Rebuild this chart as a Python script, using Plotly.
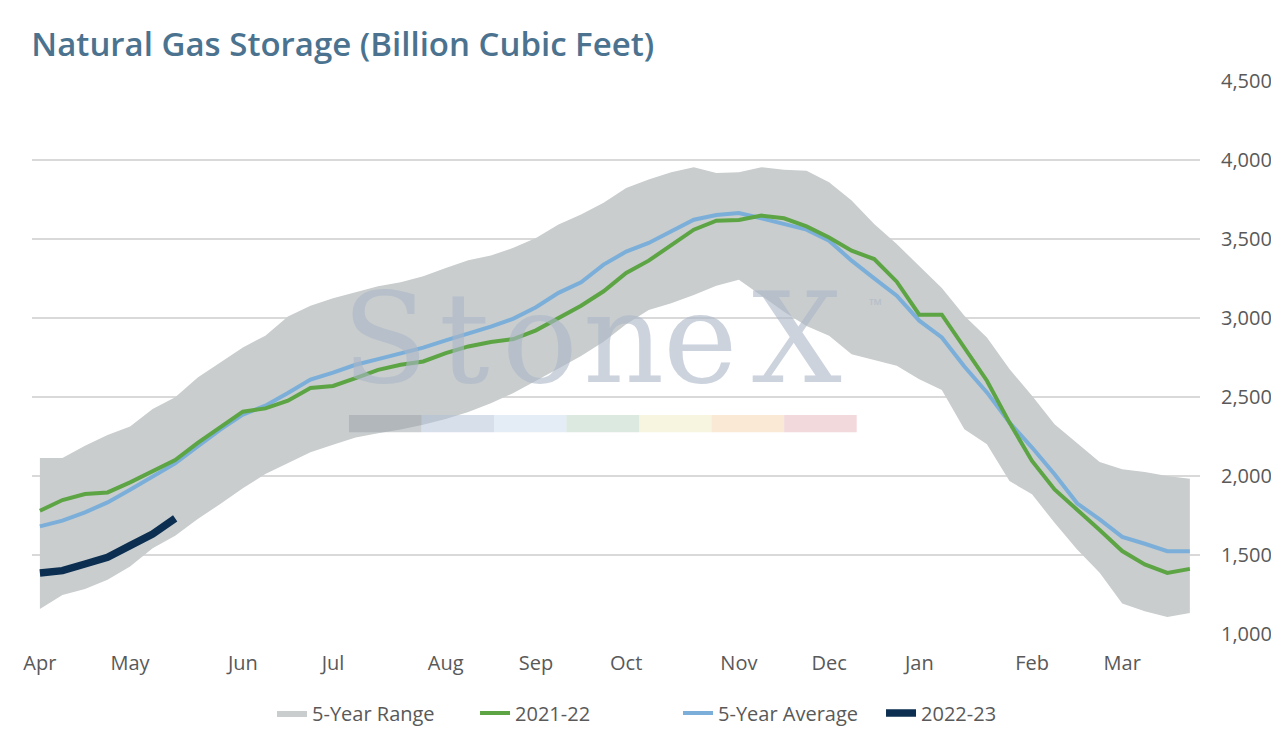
import plotly.graph_objects as go

# weekly storage, week 0 = first week of April
weeks = list(range(52))
month_ticks = [0, 4, 9, 13, 18, 22, 26, 31, 35, 39, 44, 48]
month_labels = ['Apr', 'May', 'Jun', 'Jul', 'Aug', 'Sep', 'Oct', 'Nov', 'Dec', 'Jan', 'Feb', 'Mar']

range_low = [1158, 1247, 1285, 1344, 1428, 1542, 1622, 1728, 1823, 1922, 2012, 2082, 2150,
             2198, 2243, 2270, 2295, 2325, 2360, 2405, 2460, 2525, 2600, 2680, 2760, 2850,
             2960, 3050, 3094, 3145, 3204, 3242, 3141, 3039, 2950, 2887, 2771, 2733, 2697,
             2612, 2545, 2296, 2201, 1968, 1884, 1704, 1535, 1387, 1193, 1144, 1108, 1133]
range_high = [2114, 2114, 2192, 2259, 2314, 2424, 2498, 2624, 2719, 2814, 2888, 3010, 3078,
              3125, 3163, 3201, 3226, 3264, 3317, 3366, 3395, 3444, 3507, 3592, 3655, 3729,
              3822, 3876, 3922, 3954, 3918, 3922, 3954, 3939, 3932, 3859, 3743, 3595, 3468,
              3331, 3190, 3015, 2877, 2677, 2508, 2328, 2211, 2089, 2042, 2025, 2000, 1983]
season_2122 = [1780, 1848, 1886, 1896, 1960, 2029, 2101, 2209, 2308, 2407, 2428, 2477, 2557,
               2570, 2620, 2672, 2704, 2725, 2778, 2820, 2848, 2867, 2922, 3000, 3078, 3169,
               3285, 3363, 3458, 3559, 3616, 3620, 3648, 3631, 3580, 3510, 3426, 3373, 3230,
               3021, 3021, 2814, 2603, 2338, 2095, 1915, 1789, 1658, 1525, 1440, 1387, 1412]
five_year_avg = [1681, 1717, 1770, 1833, 1913, 1998, 2080, 2188, 2293, 2388, 2445, 2525, 2610,
                 2654, 2704, 2740, 2774, 2812, 2858, 2901, 2945, 2996, 3068, 3159, 3226, 3338,
                 3420, 3475, 3546, 3622, 3652, 3665, 3631, 3595, 3559, 3489, 3363, 3251, 3141,
                 2983, 2877, 2693, 2529, 2338, 2180, 2011, 1827, 1725, 1615, 1571, 1524, 1524]
season_2223 = [1386, 1401, 1443, 1485, 1559, 1633, 1732]

FONT = 'Open Sans'
TXT = '#595959'

fig = go.Figure()

# 5-year band: lower edge invisible, upper edge fills down to it
fig.add_trace(go.Scatter(x=weeks, y=range_low, mode='lines', line=dict(width=0),
                         showlegend=False, hoverinfo='skip'))
fig.add_trace(go.Scatter(x=weeks, y=range_high, mode='lines', line=dict(width=0),
                         fill='tonexty', fillcolor='#c9cdce', name='5-Year Range',
                         legendrank=1))
fig.add_trace(go.Scatter(x=weeks, y=five_year_avg, mode='lines', name='5-Year Average',
                         line=dict(color='#7bafd9', width=4), legendrank=3))
fig.add_trace(go.Scatter(x=weeks, y=season_2122, mode='lines', name='2021-22',
                         line=dict(color='#5da544', width=4), legendrank=2))
fig.add_trace(go.Scatter(x=weeks[:len(season_2223)], y=season_2223, mode='lines',
                         name='2022-23', line=dict(color='#0c2e50', width=7.5),
                         legendrank=4))

# StoneX watermark, letters placed one by one to get the wide spacing
wm_letters = ['S', 't', 'o', 'n', 'e', 'X']
wm_x = [0.302, 0.37, 0.435, 0.506, 0.572, 0.655]
for ch, xx in zip(wm_letters, wm_x):
    fig.add_annotation(text=ch, xref='paper', yref='paper', x=xx, y=0.535,
                       xanchor='center', yanchor='middle',
                       showarrow=False, opacity=0.6,
                       font=dict(family='DejaVu Serif', size=126, color='#abb7c8'))
fig.add_annotation(text='™', xref='paper', yref='paper', x=0.722, y=0.595,
                   xanchor='center', yanchor='middle',
                   showarrow=False, opacity=0.6,
                   font=dict(family='Open Sans', size=17, color='#abb7c8'))
strip = ['#9aa2a8', '#b0c0d5', '#c9dceb', '#b8d3c3', '#f0ecc2', '#f3d3ab', '#e6b3b9']
x0 = 0.2714
for c in strip:
    fig.add_shape(type='rect', xref='paper', yref='paper', x0=x0, x1=x0 + 0.0621,
                  y0=0.365, y1=0.396, fillcolor=c, opacity=0.5, line_width=0,
                  layer='above')
    x0 += 0.0621

fig.update_layout(
    width=1263, height=723,
    margin=dict(l=24, r=71, t=73, b=97),
    paper_bgcolor='white', plot_bgcolor='white',
    font=dict(family=FONT, size=20, color=TXT),
    title=dict(text='Natural Gas Storage (Billion Cubic Feet)', x=0.0185, xanchor='left',
               y=0.95, yanchor='middle',
               font=dict(family=FONT, size=33, color='#4b7390', weight=600)),
    legend=dict(orientation='h', xref='container', yref='container',
                x=0.5305, xanchor='center', y=0.025, yanchor='middle',
                font=dict(size=20, color=TXT), itemwidth=30, entrywidth=158,
                traceorder='normal'),
    hovermode='x unified'
)

fig.update_xaxes(range=[-0.35, 51.45], tickvals=month_ticks, ticktext=month_labels,
                 showgrid=False, zeroline=False, showline=False, ticks='',
                 ticklabelstandoff=15, automargin=False,
                 tickfont=dict(size=20, color=TXT))
fig.update_yaxes(range=[1000, 4500], dtick=500, tickformat=',', side='right',
                 showgrid=True, gridcolor='#d9d9d9', gridwidth=2, zeroline=False,
                 showline=False, ticks='', ticklabelstandoff=20, automargin=False,
                 tickfont=dict(size=20, color=TXT))

fig.write_html('out.html')
